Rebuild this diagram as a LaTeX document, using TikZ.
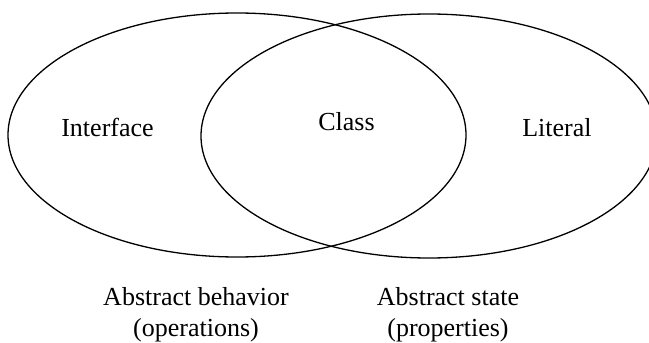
\documentclass[tikz,border=0pt]{standalone}
\usepackage{fontspec}
\setmainfont{Liberation Serif}
\begin{document}
\begin{tikzpicture}[x=1pt,y=-1pt,
  venn/.style={draw=black,line width=1.3pt},
  lbl/.style={font=\fontsize{26}{31}\selectfont,anchor=base,inner sep=0pt},
  caption/.style={font=\fontsize{26}{31}\selectfont,align=center,inner sep=0pt}]
\useasboundingbox (0,0) rectangle (649,343);
\draw[venn] (237,135) ellipse [x radius=229, y radius=122];
\draw[venn] (429,136) ellipse [x radius=228, y radius=122];
\node[lbl] (interface) at (107.5,136) {Interface};
\node[lbl] (class) at (346.5,130.5) {Class};
\node[lbl] (literal) at (557,136) {Literal};
\node[caption] (beh) at (196,315) {Abstract behavior\\(operations)};
\node[caption] (state) at (448,315) {Abstract state\\(properties)};
\end{tikzpicture}
\end{document}
